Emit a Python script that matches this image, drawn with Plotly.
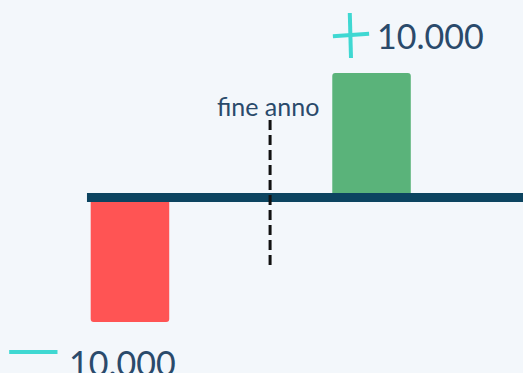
import plotly.graph_objects as go

categories = [0, 1]
values = [-10000, 10000]
bar_colors = ["#ff5454", "#5ab37a"]
labels = ["10.000", "10.000"]
divider_label = "fine anno"

BG = "#f3f7fb"
TXT = "#2a4a6b"
CYAN = "#3fd8d2"

fig = go.Figure()
fig.add_trace(go.Bar(x=categories, y=values, marker_color=bar_colors, width=0.325,
                     marker_line_width=0, hoverinfo="skip"))

# baseline
fig.add_shape(type="line", xref="x", yref="y", x0=-0.178, x1=1.7, y0=0, y1=0,
              line=dict(color="#0c4460", width=9), layer="above")
# dashed divider
fig.add_shape(type="line", xref="x", yref="y", x0=0.58, x1=0.58, y0=6225, y1=-5663,
              line=dict(color="#111111", width=3, dash="10px,5px"), layer="above")

fig.add_annotation(x=0.571, y=7349, text=divider_label, showarrow=False,
                   font=dict(family="Lato", size=25, color=TXT))
fig.add_annotation(x=1.246, y=12972, text=labels[1], showarrow=False,
                   font=dict(family="Lato", size=34, color=TXT))
fig.add_annotation(x=-0.03, y=-13213, text=labels[0], showarrow=False,
                   font=dict(family="Lato", size=34, color=TXT))

# hand-drawn plus / minus marks
fig.add_shape(type="line", xref="x", yref="y", x0=0.84, x1=0.99, y0=12950, y1=13150,
              line=dict(color=CYAN, width=4))
fig.add_shape(type="line", xref="x", yref="y", x0=0.91, x1=0.915, y0=14819, y1=11205,
              line=dict(color=CYAN, width=4))
fig.add_shape(type="line", xref="x", yref="y", x0=-0.50, x1=-0.30, y0=-12410, y1=-12410,
              line=dict(color=CYAN, width=4))

fig.update_layout(
    width=523, height=373,
    margin=dict(l=0, r=0, t=0, b=0),
    paper_bgcolor=BG, plot_bgcolor=BG,
    showlegend=False,
    barcornerradius=3,
    xaxis=dict(range=[-0.538, 1.627], visible=False, fixedrange=True),
    yaxis=dict(range=[-14096, 15863], visible=False, fixedrange=True),
)

fig.write_html("out.html", config={"displayModeBar": False})
